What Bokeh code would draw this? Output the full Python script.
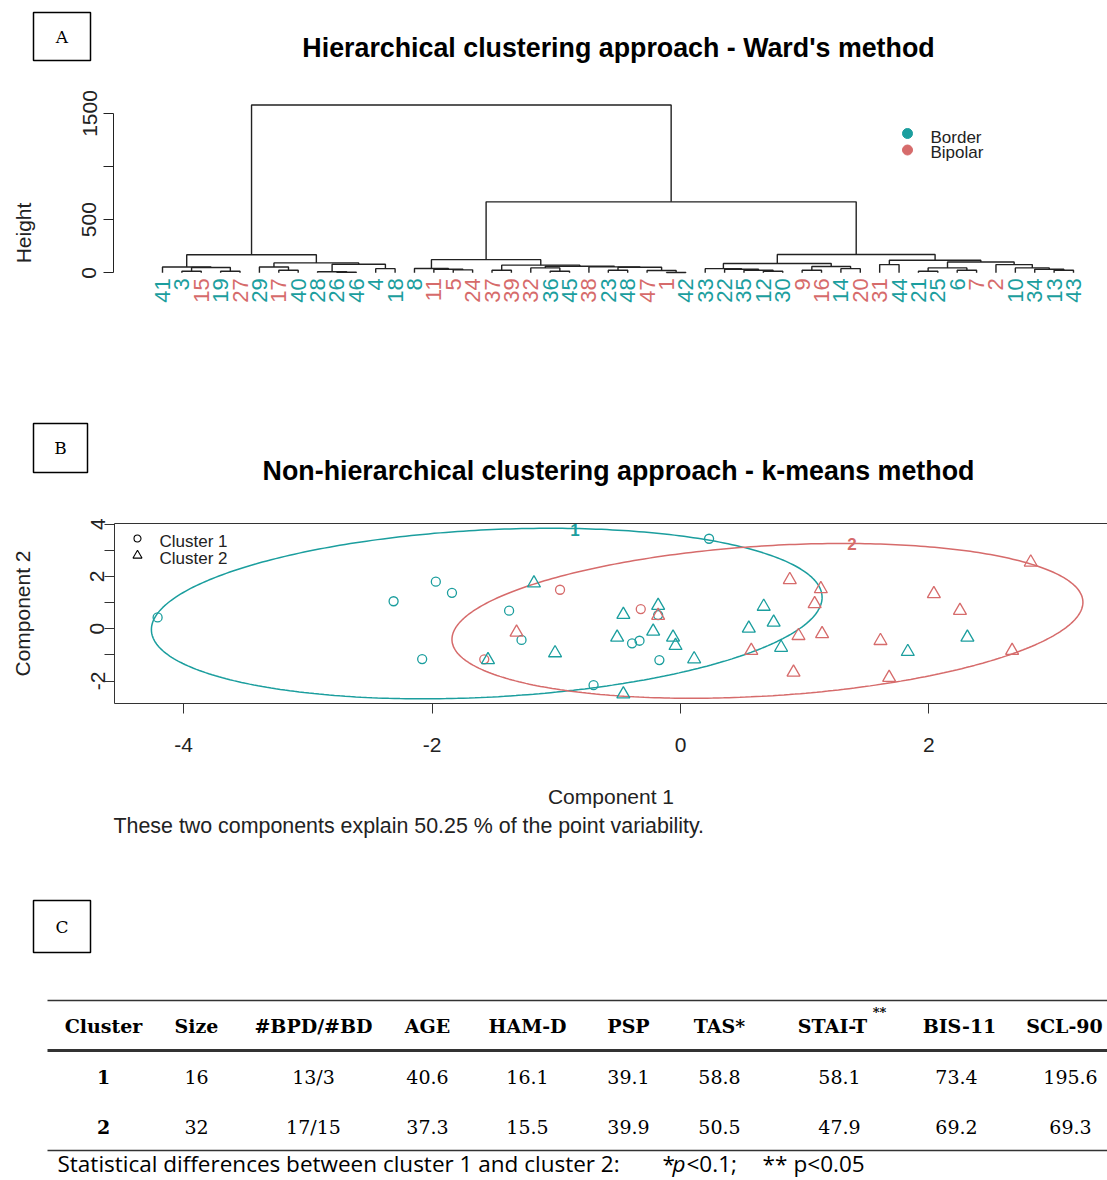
import numpy as np
from bokeh.plotting import figure
from bokeh.models import Range1d, LinearAxis, FixedTicker
from bokeh.layouts import column
from bokeh.embed import file_html
from bokeh.resources import INLINE
from bokeh.core.properties import value

TEAL = "#1b9e9e"
RED = "#d66b6b"
SANS = "Liberation Sans"
SERIF = "DejaVu Serif"
W = 1107

# ---------------- Panel A data (Ward dendrogram) ----------------
# node = [merge height, left child, right child]; leaf = patient id
bipolar_ids = [15, 27, 17, 11, 5, 24, 37, 39, 32, 38, 47, 1, 9, 16, 20, 31, 7, 2]
left_group = [170, [55, 41, [50, [15, 3, 15], [15, 19, 27]]],
              [93, [55, 29, [24, 17, 40]], [80, [10, 28, [5, 26, 46]], [39, 4, 18]]]]
middle_group = [124, [40, 8, [34, 11, [28, 5, 24]]],
                [72, [24, 37, 39], [62, [46, 32, [14, 36, 45]],
                                    [56, 38, [52, [24, 23, 48], [22, 47, [3, 1, 42]]]]]]]
right_group = [172, [87, [39, 33, [33, 22, [24, 35, [14, 12, 30]]]], [60, [24, 9, 16], [39, 14, 20]]],
               [118, [77, 31, 44], [102, [46, [14, 21, 25], [24, 6, 7]],
                                     [77, 2, [46, 10, [33, 34, [24, 13, 43]]]]]]]
height_mid_right = 668
height_top = 1580
height_ticks = [0, 500, 1000, 1500]
legend_a = ["Border", "Bipolar"]

# ---------------- Panel B data (k-means, 2 components) ----------------
c1_x = [-4.21, -2.31, -1.97, -1.84, -2.08, -1.38, -1.28, -0.70, 0.23, -0.18, -0.39, -0.33, -0.17,
        -1.58, -0.97, -0.32]
c1_y = [0.43, 1.05, 1.80, 1.37, -1.16, 0.69, -0.43, -2.16, 3.44, 0.52, -0.56, -0.46, -1.20,
        -1.17, 1.49, 0.75]
c1_dx = ["Border"] * 13 + ["Bipolar"] * 3
c2_x = [-1.18, -1.01, -1.55, -0.46, -0.46, -0.18, -0.51, -0.22, -0.06, -0.04, 0.11, 0.67, 0.55, 0.75,
        0.81, 1.83, 2.31,
        -1.32, -0.18, 0.57, 0.88, 1.13, 1.08, 0.95, 1.14, 0.91, 1.61, 1.68, 2.04, 2.25, 2.82, 2.67]
c2_y = [1.74, -0.93, -1.19, -2.50, 0.54, 0.88, -0.33, -0.10, -0.33, -0.65, -1.16, 0.85, 0.01, 0.24,
        -0.72, -0.88, -0.33,
        -0.14, 0.50, -0.84, 1.87, 1.52, 0.95, -0.27, -0.20, -1.67, -0.46, -1.87, 1.33, 0.69, 2.54, -0.84]
c2_dx = ["Border"] * 17 + ["Bipolar"] * 15
ell_cx = [-1.56, 0.70]
ell_cy = [0.58, 0.30]
ell_rx = [2.70, 2.54]
ell_ry = [3.26, 2.96]
ell_phase = [0.19, 0.242]
clus_names = ["1", "2"]
clus_lab_x = [-0.85, 1.38]
clus_lab_y = [3.76, 3.22]
legend_b = ["Cluster 1", "Cluster 2"]
explained = 50.25

# ---------------- Panel C data (table) ----------------
table_cols = ["Cluster", "Size", "#BPD/#BD", "AGE", "HAM-D", "PSP", "TAS*", "STAI-T", "BIS-11", "SCL-90"]
row_1 = ["1", "16", "13/3", "40.6", "16.1", "39.1", "58.8", "58.1", "73.4", "195.6"]
row_2 = ["2", "32", "17/15", "37.3", "15.5", "39.9", "50.5", "47.9", "69.2", "69.3"]
col_x = [103, 196, 313, 427, 527, 628, 719, 832, 959, 1064]
val_x = [103, 196, 313, 427, 527, 628, 719, 839, 956, 1070]


def layout_fig(y_top, y_bot):
    p = figure(width=W, height=y_bot - y_top, x_range=Range1d(0, W), y_range=Range1d(y_bot, y_top),
               x_axis_type=None, y_axis_type=None, output_backend="svg", toolbar_location=None,
               min_border=0, outline_line_color=None, frame_align=False)
    return p


def header(p, letter, box, title, ty):
    x0, x1, y0, y1 = box
    p.rect(x=[(x0 + x1) / 2], y=[(y0 + y1) / 2], width=x1 - x0, height=y1 - y0,
           fill_color=None, line_color="black", line_width=1.5)
    p.text(x=[(x0 + x1) / 2], y=[(y0 + y1) / 2], text=[letter], text_align="center", text_baseline="middle",
           text_font=value(SERIF), text_font_size="17px", text_color="black")
    p.text(x=[618], y=[ty], text=[title], text_align="center", text_baseline="middle",
           text_font=value(SANS), text_font_size="26.8px", text_font_style="bold", text_color="black")


# ================= Panel A =================
pAh = layout_fig(0, 80)
header(pAh, "A", (33, 90, 12, 60), "Hierarchical clustering approach - Ward's method", 47)

tree = [height_top, left_group, [height_mid_right, middle_group, right_group]]
leaf_order = []


def collect(n):
    if isinstance(n, int):
        leaf_order.append(n)
    else:
        collect(n[1]); collect(n[2])


collect(tree)
pos = {leaf: i + 1 for i, leaf in enumerate(leaf_order)}
seg_x, seg_y = [], []


def place(n):
    if isinstance(n, int):
        return pos[n], 0.0
    h = n[0]
    xl, hl = place(n[1])
    xr, hr = place(n[2])
    seg_x.append([xl, xl, xr, xr])
    seg_y.append([hl, h, h, hr])
    return (xl + xr) / 2, h


place(tree)

px_leaf = (1073 - 162) / 47.0
hpp = 1500 / 159.3
pA = figure(width=W, height=305,
            x_range=Range1d(1 - (162 - 113) / px_leaf, 1 + (W - 162) / px_leaf),
            y_range=Range1d(-(385 - 272.3) * hpp, (272.3 - 80) * hpp),
            x_axis_type=None, output_backend="svg", toolbar_location=None,
            min_border_left=113, min_border_right=0, min_border_top=0, min_border_bottom=0,
            outline_line_color=None, frame_align=False)
pA.ygrid.visible = False
pA.multi_line(xs=seg_x, ys=seg_y, line_color="#222222", line_width=1.4)
leaf_cols = [RED if l in bipolar_ids else TEAL for l in leaf_order]
pA.text(x=[pos[l] for l in leaf_order], y=[-5.5 * hpp] * len(leaf_order), text=[str(l) for l in leaf_order],
        angle=np.pi / 2, text_align="right", text_baseline="middle", text_color=leaf_cols,
        text_font=value(SANS), text_font_size="22px")
# legend
lgx = 1 + (907 - 162) / px_leaf
pA.scatter(x=[lgx, lgx], y=[(272.3 - 133) * hpp, (272.3 - 149.5) * hpp], marker="circle", size=10,
           fill_color=[TEAL, RED], line_color=[TEAL, RED])
pA.text(x=[lgx + (930 - 907) / px_leaf] * 2, y=[(272.3 - 137) * hpp, (272.3 - 152) * hpp], text=legend_a,
        text_baseline="middle", text_font=value(SANS), text_font_size="17px", text_color="#222222")
ay = pA.yaxis[0]
ay.ticker = FixedTicker(ticks=height_ticks)
ay.major_label_overrides = {1000: ""}
ay.bounds = (0, 1500)
ay.major_tick_out = 10
ay.major_tick_in = 0
ay.minor_tick_out = 0
ay.minor_tick_in = 0
ay.major_label_orientation = "vertical"
ay.major_label_standoff = 7
ay.major_label_text_font = SANS
ay.major_label_text_font_size = "21px"
ay.major_label_text_color = "#222222"
ay.axis_label = "Height"
ay.axis_label_standoff = 45
ay.axis_label_text_font = SANS
ay.axis_label_text_font_size = "21px"
ay.axis_label_text_font_style = "normal"
ay.axis_label_text_color = "#222222"
ay.axis_line_color = "#222222"
ay.major_tick_line_color = "#222222"

# ================= Panel B =================
pBh = layout_fig(385, 505)
header(pBh, "B", (33, 87, 423, 472), "Non-hierarchical clustering approach - k-means method", 470)

xpu = 124.2
ypu = 26.15
pB = figure(width=W, height=310,
            x_range=Range1d((114 - 680) / xpu, (W - 680) / xpu),
            y_range=Range1d((628.2 - 703) / ypu, (628.2 - 523) / ypu),
            output_backend="svg", toolbar_location=None,
            min_border_left=114, min_border_right=0, min_border_top=18, min_border_bottom=112,
            outline_line_color=None, frame_align=False)
pB.grid.visible = False

t = np.linspace(0, 2 * np.pi, 361)
for k, col in enumerate([TEAL, RED]):
    ex = ell_cx[k] + ell_rx[k] * np.cos(t)
    ey = ell_cy[k] + ell_ry[k] * np.sin(t + ell_phase[k])
    pB.line(ex, ey, line_color=col, line_width=1.5)

c1_col = [TEAL if d == "Border" else RED for d in c1_dx]
c2_col = [TEAL if d == "Border" else RED for d in c2_dx]
pB.scatter(c1_x, c1_y, marker="circle", size=9, fill_color=None, line_color=c1_col, line_width=1.3)
pB.scatter(c2_x, c2_y, marker="triangle", size=13, fill_color=None, line_color=c2_col, line_width=1.3)
pB.text(x=clus_lab_x, y=clus_lab_y, text=clus_names, text_color=[TEAL, RED], text_align="center",
        text_baseline="middle", text_font=value(SANS), text_font_size="17px", text_font_style="bold")
# legend
lbx = (137 - 680) / xpu
pB.scatter(x=[lbx], y=[(628.2 - 538) / ypu], marker="circle", size=7, fill_color=None, line_color="black",
           line_width=1.1)
pB.scatter(x=[lbx], y=[(628.2 - 555) / ypu], marker="triangle", size=9, fill_color=None, line_color="black",
           line_width=1.1)
pB.text(x=[(159 - 680) / xpu] * 2, y=[(628.2 - 541) / ypu, (628.2 - 557.5) / ypu], text=legend_b,
        text_baseline="middle", text_font=value(SANS), text_font_size="17px", text_color="#222222")

bx = pB.xaxis[0]
bx.ticker = FixedTicker(ticks=[-4, -2, 0, 2])
bx.major_label_overrides = {-4: "-4", -2: "-2", 0: "0", 2: "2"}
bx.major_tick_out = 10
bx.major_tick_in = 0
bx.minor_tick_out = 0
bx.minor_tick_in = 0
bx.major_label_standoff = 24
bx.axis_label = "Component 1"
bx.axis_label_standoff = 30
by = pB.yaxis[0]
by.ticker = FixedTicker(ticks=[-2, -1, 0, 1, 2, 3, 4])
by.major_label_overrides = {-2: "-2", -1: "", 0: "0", 1: "", 2: "2", 3: "", 4: "4"}
by.major_tick_out = 10
by.major_tick_in = 0
by.minor_tick_out = 0
by.minor_tick_in = 0
by.major_label_orientation = "vertical"
by.major_label_standoff = 0
by.axis_label = "Component 2"
by.axis_label_standoff = 54
for ax in (bx, by):
    ax.major_label_text_font = SANS
    ax.major_label_text_font_size = "21px"
    ax.major_label_text_color = "#222222"
    ax.axis_label_text_font = SANS
    ax.axis_label_text_font_size = "21px"
    ax.axis_label_text_font_style = "normal"
    ax.axis_label_text_color = "#222222"
    ax.axis_line_color = "#333333"
    ax.major_tick_line_color = "#333333"
top_ax = LinearAxis(ticker=FixedTicker(ticks=[]), major_tick_out=0, major_tick_in=0, minor_tick_out=0,
                    minor_tick_in=0, major_label_text_font_size="0px", major_label_standoff=0,
                    axis_line_color="#333333")
pB.add_layout(top_ax, "above")

# ================= Panel C =================
pC = layout_fig(815, 1180)
pC.text(x=[113], y=[825], text=["These two components explain %.2f %% of the point variability." % explained],
        text_baseline="middle", text_font=value(SANS), text_font_size="21.4px", text_color="#222222")
x0, x1, y0, y1 = 33, 90, 900, 952
pC.rect(x=[(x0 + x1) / 2], y=[(y0 + y1) / 2], width=x1 - x0, height=y1 - y0,
        fill_color=None, line_color="black", line_width=1.5)
pC.text(x=[(x0 + x1) / 2], y=[(y0 + y1) / 2], text=["C"], text_align="center", text_baseline="middle",
        text_font=value(SERIF), text_font_size="17px", text_color="black")

pC.segment(x0=[47, 47, 47], y0=[1000, 1050, 1150], x1=[W] * 3, y1=[1000, 1050, 1150],
           line_color="#333333", line_width=[1.5, 3, 1.5])
pC.text(x=col_x, y=[1025] * len(col_x), text=table_cols, text_align="center", text_baseline="middle",
        text_font=value(SERIF), text_font_size="19px", text_font_style="bold", text_color="black")
pC.text(x=[879], y=[1012], text=["**"], text_align="center", text_baseline="middle",
        text_font=value(SERIF), text_font_size="13px", text_font_style="bold", text_color="black")
for yy, row in ((1076, row_1), (1126, row_2)):
    pC.text(x=val_x[:1], y=[yy], text=row[:1], text_align="center", text_baseline="middle",
            text_font=value(SERIF), text_font_size="19px", text_font_style="bold", text_color="black")
    pC.text(x=val_x[1:], y=[yy] * (len(row) - 1), text=row[1:], text_align="center", text_baseline="middle",
            text_font=value(SERIF), text_font_size="19px", text_color="black")

fy = 1163
FN = "Open Sans"
FS = "22.5px"
pC.text(x=[57], y=[fy], text=["Statistical differences between cluster 1 and cluster 2:"],
        text_baseline="middle", text_font=value(FN), text_font_size=FS, text_color="black")
pC.text(x=[662, 686, 762, 793], y=[fy] * 4, text=["*", "<0.1;", "**", "p<0.05"],
        text_baseline="middle", text_font=value(FN), text_font_size=FS, text_color="black")
pC.text(x=[672], y=[fy], text=["p"], text_baseline="middle", text_font=value(FN),
        text_font_size=FS, text_font_style="italic", text_color="black")

page = column(pAh, pA, pBh, pB, pC, spacing=0)
open("out.html", "w").write(file_html(page, INLINE))
